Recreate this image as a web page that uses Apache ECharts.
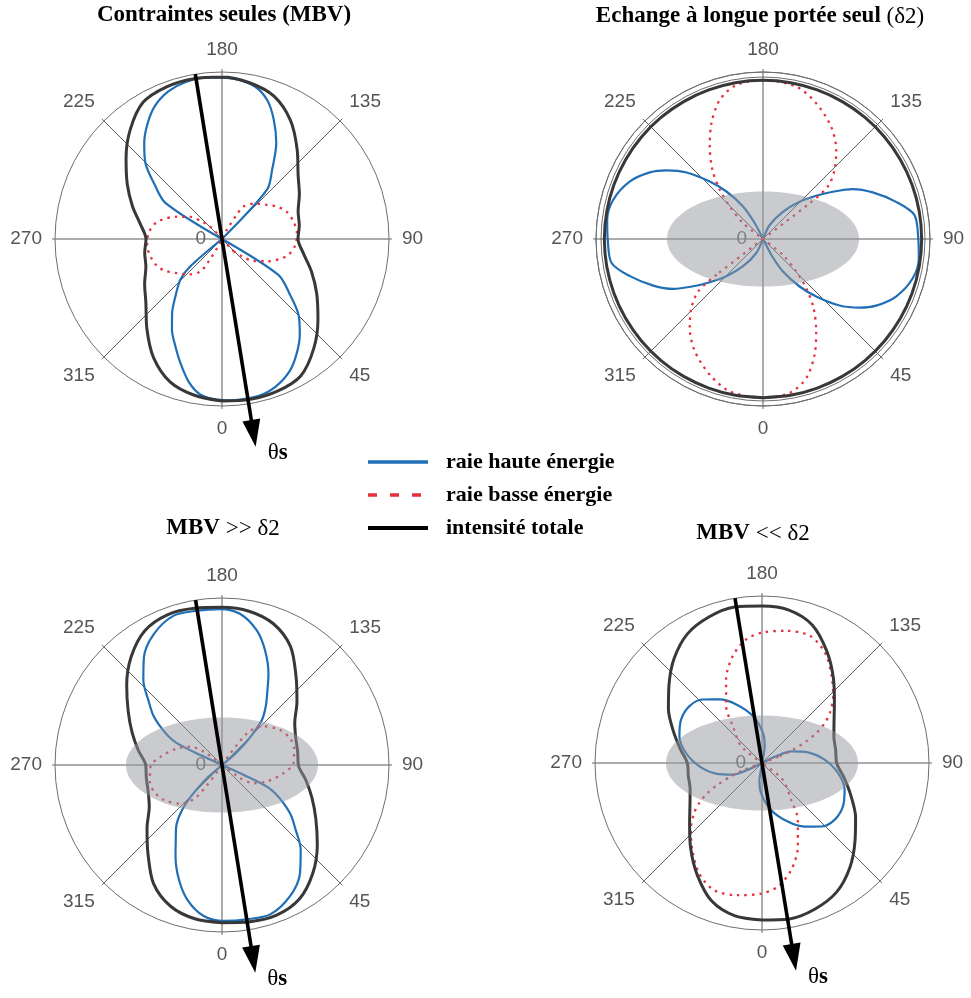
<!DOCTYPE html>
<html>
<head>
<meta charset="utf-8">
<script src="https://cdn.jsdelivr.net/npm/echarts@6/dist/echarts.min.js"></script>
<style>html,body{margin:0;padding:0;background:#fff}#c{width:971px;height:998px}</style>
</head>
<body>
<div id="c"></div>
<script>
// ---------- data (angle in degrees, 0 at bottom, 90 right, 180 top; value = relative intensity) ----------
const seriesNames = ['raie haute énergie', 'raie basse énergie', 'intensité totale'];
const plotTitles = ['{b|Contraintes seules (MBV)}', '{b|Echange à longue portée seul }{r|(δ2)}', '{b|MBV }{r|>> δ2}', '{b|MBV }{r|<< δ2}'];
const gridAngles = [0,10,20,30,40,50,60,70,80,90,100,110,120,130,140,150,160,170,180,190,200,210,220,230,240,250,260,270,280,290,300,310,320,330,340,350];

// Plot 1 : Contraintes seules (MBV)
const highE1 = [[4,0.968],[13,0.965],[20,0.94],[27,0.89],[33,0.82],[39,0.74],[45,0.65],[51,0.52],[57.5,0.40],[97,0],
  [137.6,0.40],[144,0.51],[150.5,0.66],[156.6,0.78],[162,0.875],[168,0.935],[176,0.963],[185,0.972],[193,0.965],[200,0.94],[207,0.89],[213,0.82],[219,0.74],[225,0.65],[231,0.52],[237.5,0.40],[277,0],
  [310.8,0.25],[314.3,0.348],[320.9,0.442],[326,0.534],[331.1,0.62],[336.5,0.70],[341.4,0.782],[347,0.88],[352,0.94],[358,0.962],[4,0.968]];
const lowE1 = [[43.4,0.10],[49,0.158],[55,0.23],[63.6,0.30],[75,0.40],[85,0.44],[95,0.45],[104,0.44],[113,0.42],[120,0.385],[127.3,0.338],[137,0.29],[146.4,0.234],[149,0.16],[152,0.06],[190,0],
  [223.4,0.10],[229,0.158],[235,0.23],[243.6,0.30],[255,0.40],[265,0.44],[275,0.45],[284,0.44],[293,0.42],[300,0.385],[307.3,0.338],[317,0.29],[326.4,0.234],[329,0.16],[332,0.06],[10,0],[43.4,0.10]];
const total1 = [0.97,0.975,0.97,0.945,0.855,0.75,0.655,0.57,0.495,0.455,0.47,0.485,0.535,0.595,0.70,0.82,0.91,0.95,
  0.97,0.975,0.97,0.945,0.855,0.75,0.655,0.57,0.495,0.455,0.47,0.485,0.535,0.595,0.70,0.82,0.91,0.95];

// Plot 2 : Echange à longue portée seul (δ2)
const highE2 = [[27.5,0.108],[31.5,0.229],[37.6,0.359],[42.8,0.469],[49,0.607],[54.6,0.709],[59.5,0.786],[66.6,0.868],[75.3,0.927],[83,0.94],[90,0.93],[99,0.918],[105.6,0.827],[113,0.714],[119.1,0.615],[124.1,0.505],[129.1,0.41],[135.5,0.313],[143.8,0.202],[154.5,0.093],[180,0],
  [207.5,0.108],[211.5,0.229],[217.6,0.359],[222.8,0.469],[229,0.607],[234.6,0.709],[239.5,0.786],[246.6,0.868],[255.3,0.927],[263,0.94],[270,0.93],[279,0.918],[285.6,0.827],[293,0.714],[299.1,0.615],[304.1,0.505],[309.1,0.41],[315.5,0.313],[323.8,0.202],[334.5,0.093],[0,0],[27.5,0.108]];
const lowE2 = [[307.5,0.35],[309,0.50],[314,0.596],[320.6,0.691],[328.8,0.787],[338.6,0.873],[347.7,0.934],[0,0.95],[9.8,0.936],[17.3,0.872],[24,0.759],[29.9,0.639],[36.2,0.513],[41.3,0.392],[45.6,0.279],[51.3,0.153],[90,0],
  [127.5,0.35],[129,0.50],[134,0.596],[140.6,0.691],[148.8,0.787],[158.6,0.873],[167.7,0.934],[180,0.95],[189.8,0.936],[197.3,0.872],[204,0.759],[209.9,0.639],[216.2,0.513],[221.3,0.392],[225.6,0.279],[231.3,0.153],[270,0],[307.5,0.35]];
const total2 = [0.95,0.95,0.95,0.95,0.95,0.95,0.95,0.95,0.95,0.95,0.95,0.95,0.95,0.95,0.95,0.95,0.95,0.95,
  0.95,0.95,0.95,0.95,0.95,0.95,0.95,0.95,0.95,0.95,0.95,0.95,0.95,0.95,0.95,0.95,0.95,0.95];
const ringValue2 = 0.97;

// Plot 3 : MBV >> δ2
const highE3 = [[311,0.12],[314.7,0.24],[318.4,0.36],[323.4,0.46],[328.5,0.53],[333,0.613],[339.4,0.733],[345.5,0.832],[353.1,0.911],[0.6,0.934],[9.2,0.936],[17.9,0.94],[27.4,0.885],[35.9,0.797],[42.9,0.692],[49.1,0.58],[54,0.51],[58.2,0.433],[62,0.36],[64.3,0.298],[65.5,0.15],[95,0],
  [131,0.12],[134.7,0.24],[138.4,0.36],[143.4,0.44],[148.5,0.52],[153,0.613],[159.4,0.733],[165.5,0.832],[173.1,0.911],[180.6,0.934],[189.2,0.936],[197.9,0.94],[207.4,0.885],[215.9,0.797],[222.9,0.692],[229.1,0.58],[234,0.51],[238.2,0.433],[242,0.36],[244.3,0.298],[245.5,0.15],[275,0],[311,0.12]];
const lowE3 = [[54,0.135],[59.9,0.218],[69.7,0.286],[82.3,0.371],[91.3,0.428],[103,0.443],[111.3,0.437],[121,0.406],[133.1,0.34],[141.7,0.241],[190,0],
  [234,0.135],[239.9,0.218],[249.7,0.286],[262.3,0.371],[271.3,0.428],[283,0.443],[291.3,0.437],[301,0.406],[313.1,0.34],[321.7,0.241],[10,0],[54,0.135]];
const total3 = [0.944,0.953,0.957,0.927,0.846,0.745,0.649,0.573,0.509,0.457,0.46,0.47,0.503,0.586,0.69,0.82,0.90,0.935,
  0.944,0.953,0.957,0.927,0.846,0.745,0.649,0.573,0.509,0.457,0.46,0.47,0.503,0.586,0.69,0.82,0.90,0.935];

// Plot 4 : MBV << δ2
const highE4 = [[350.9,0.101],[358.1,0.18],[10.9,0.286],[23.7,0.383],[33.8,0.458],[43,0.52],[51.9,0.552],[61.8,0.55],[72,0.52],[82.5,0.459],[93.1,0.375],[103.1,0.282],[111.9,0.188],[115.5,0.093],[150,0],
  [170.9,0.101],[178.1,0.18],[190.9,0.286],[203.7,0.383],[213.8,0.458],[223,0.52],[231.9,0.552],[241.8,0.55],[252,0.52],[262.5,0.459],[273.1,0.375],[283.1,0.282],[291.9,0.188],[295.5,0.093],[330,0],[350.9,0.101]];
const lowE4 = [[110.7,0.113],[113.3,0.203],[116.1,0.297],[118.9,0.373],[122.6,0.447],[126.5,0.506],[133.2,0.585],[141.3,0.667],[150.3,0.761],[159.4,0.814],[169.5,0.805],[179.6,0.782],[187.2,0.747],[195.2,0.665],[203.2,0.545],[212.2,0.403],[218.3,0.281],[231.1,0.16],[270,0],
  [290.7,0.113],[293.3,0.203],[296.1,0.297],[298.9,0.373],[302.6,0.447],[306.5,0.506],[313.2,0.585],[321.3,0.667],[330.3,0.761],[339.4,0.814],[349.5,0.805],[359.6,0.782],[7.2,0.747],[15.2,0.665],[23.2,0.545],[32.2,0.403],[38.3,0.281],[51.1,0.16],[90,0],[110.7,0.113]];
const total4 = [0.94,0.948,0.93,0.893,0.818,0.727,0.647,0.566,0.498,0.447,0.448,0.458,0.498,0.566,0.665,0.775,0.88,0.93,
  0.94,0.948,0.93,0.893,0.818,0.727,0.647,0.566,0.498,0.447,0.448,0.458,0.498,0.566,0.665,0.775,0.88,0.93];

// grey ellipse (semi-axes along 90° and 180°, in intensity units) for plots 2,3,4
const ellipseAxes = [0.575, 0.285];
const ellipsePlots = [1, 2, 3];
// θs direction (degrees) and radial extent of the arrow [tail, tip]
const thetaS = [9.2, null, 9.1, 9.3];
const arrowSpan = [1.0, 1.26];

// ---------- layout / style ----------
const centers = [[222, 239], [763, 239], [222, 765], [762, 763]];
const titlePos = [[224, 4], [760, 5], [223, 517], [753, 522]];
const BLUE = '#1f6fb6', RED = '#e5323e', BLACK = '#383838';
const highE = [highE1, highE2, highE3, highE4];
const lowE = [lowE1, lowE2, lowE3, lowE4];
const totals = [total1, total2, total3, total4];

function gridPairs(vals) {
  const p = gridAngles.map((a, i) => [a, vals[i]]);
  p.push(p[0]);
  return p;
}
// lobes meet at the centre: break the polyline there so each lobe is smoothed on its own
function lobeSegments(arr) {
  const out = [];
  arr.forEach(p => {
    if (p[1] === 0) out.push(p, [p[0], '-'], p);
    else out.push(p);
  });
  return out;
}

const titleRich = {
  b: { fontFamily: 'Liberation Serif', fontWeight: 'bold', fontSize: 23, color: '#000' },
  r: { fontFamily: 'Liberation Serif', fontWeight: 'normal', fontSize: 23, color: '#000' }
};

const option = {
  animation: false,
  backgroundColor: '#fff',
  title: plotTitles.map((t, i) => ({
    text: t, left: titlePos[i][0], top: titlePos[i][1], textAlign: 'center', padding: 0,
    textStyle: { rich: titleRich }
  })),
  legend: {
    orient: 'vertical', left: 361, top: 444, itemWidth: 60, itemHeight: 14, itemGap: 7,
    selectedMode: false,
    itemStyle: { opacity: 0 },
    textStyle: { fontFamily: 'Liberation Serif', fontWeight: 'bold', fontSize: 22, color: '#000', padding: [0, 0, 0, 13], lineHeight: 26 },
    data: [
      { name: seriesNames[0], lineStyle: { width: 3.5, color: BLUE, type: 'solid' } },
      { name: seriesNames[1], lineStyle: { width: 3.5, color: RED, type: [9, 13] } },
      { name: seriesNames[2], lineStyle: { width: 4, color: '#000', type: 'solid' } }
    ]
  },
  polar: centers.map(c => ({ center: c, radius: 167 })),
  angleAxis: centers.map((c, i) => ({
    polarIndex: i, type: 'value', min: 0, max: 360, interval: 45, startAngle: 270, clockwise: false,
    axisLine: { show: true, lineStyle: { color: '#6e6e6e', width: 1 } },
    axisTick: { show: true, length: 3, lineStyle: { color: '#6e6e6e', width: 1 } },
    splitLine: { show: true, lineStyle: { color: '#5a5a5a', width: 1 } },
    axisLabel: { margin: 13, color: '#555', fontFamily: 'Liberation Sans', fontSize: 19, formatter: v => String(v) }
  })),
  radiusAxis: centers.map((c, i) => ({
    polarIndex: i, type: 'value', min: 0, max: 1, interval: i === 1 ? ringValue2 : 1,
    axisLine: { show: false }, axisTick: { show: false },
    splitLine: { show: i === 1, lineStyle: { color: '#6e6e6e', width: 1 } },
    axisLabel: { formatter: v => (v === 0 ? '0' : ''), margin: -16, align: 'right', verticalAlign: 'middle', color: '#666', fontFamily: 'Liberation Sans', fontSize: 19 }
  })),
  series: []
};

for (let i = 0; i < 4; i++) {
  option.series.push({
    type: 'line', name: seriesNames[0], coordinateSystem: 'polar', polarIndex: i,
    data: lobeSegments(highE[i]), encode: { angle: 0, radius: 1 }, symbol: 'none', smooth: 0.3, connectNulls: false, z: 3,
    lineStyle: { color: BLUE, width: 2.2 }, itemStyle: { color: BLUE }
  });
  option.series.push({
    type: 'line', name: seriesNames[1], coordinateSystem: 'polar', polarIndex: i,
    data: lobeSegments(lowE[i]), encode: { angle: 0, radius: 1 }, symbol: 'none', smooth: 0.3, connectNulls: false, z: 3,
    lineStyle: { color: RED, width: 2.3, type: [2.5, 5], cap: 'butt' }, itemStyle: { color: RED }
  });
  option.series.push({
    type: 'line', name: seriesNames[2], coordinateSystem: 'polar', polarIndex: i,
    data: gridPairs(totals[i]), encode: { angle: 0, radius: 1 }, symbol: 'none', smooth: 0.3, z: 3,
    lineStyle: { color: BLACK, width: 3 }, itemStyle: { color: '#000' }
  });
  if (ellipsePlots.indexOf(i) >= 0) {
    option.series.push({
      type: 'custom', name: 'ellipse', coordinateSystem: 'polar', polarIndex: i, z: 4,
      data: [ellipseAxes], silent: true,
      renderItem: (params, api) => {
        const c = api.coord([0, 0]);
        const px = api.coord([api.value(0), 90]);
        const py = api.coord([api.value(1), 180]);
        return {
          type: 'ellipse',
          shape: { cx: c[0], cy: c[1], rx: Math.abs(px[0] - c[0]), ry: Math.abs(py[1] - c[1]) },
          style: { fill: 'rgba(150,152,158,0.5)' }
        };
      }
    });
  }
  if (thetaS[i] !== null) {
    option.series.push({
      type: 'custom', name: 'θs', coordinateSystem: 'polar', polarIndex: i, z: 6,
      dimensions: ['r0', 'a0', 'r1', 'a1'], encode: { radius: 0, angle: 1 },
      data: [[arrowSpan[0], thetaS[i] + 180, arrowSpan[1], thetaS[i]]], silent: true,
      renderItem: (params, api) => {
        const p0 = api.coord([api.value(0), api.value(1)]);
        const p1 = api.coord([api.value(2), api.value(3)]);
        const dx = p1[0] - p0[0], dy = p1[1] - p0[1];
        const len = Math.hypot(dx, dy), ux = dx / len, uy = dy / len;
        const headL = 27, headW = 9;
        const bx = p1[0] - ux * headL, by = p1[1] - uy * headL;
        return {
          type: 'group',
          children: [
            { type: 'line', shape: { x1: p0[0], y1: p0[1], x2: bx + ux * 2, y2: by + uy * 2 }, style: { stroke: '#000', lineWidth: 3.6 } },
            { type: 'polygon', shape: { points: [[p1[0], p1[1]], [bx - uy * headW, by + ux * headW], [bx + uy * headW, by - ux * headW]] }, style: { fill: '#000' } },
            { type: 'text', x: p1[0] + 12, y: p1[1] + 6,
              style: { text: '{t|θ}{s|s}', align: 'left', verticalAlign: 'middle',
                rich: { t: { fontFamily: 'Liberation Serif', fontSize: 23, fill: '#000' },
                        s: { fontFamily: 'Liberation Serif', fontWeight: 'bold', fontSize: 23, fill: '#000' } } } }
          ]
        };
      }
    });
  }
}

const chart = echarts.init(document.getElementById('c'), null, { renderer: 'canvas' });
chart.setOption(option);
</script>
</body>
</html>
